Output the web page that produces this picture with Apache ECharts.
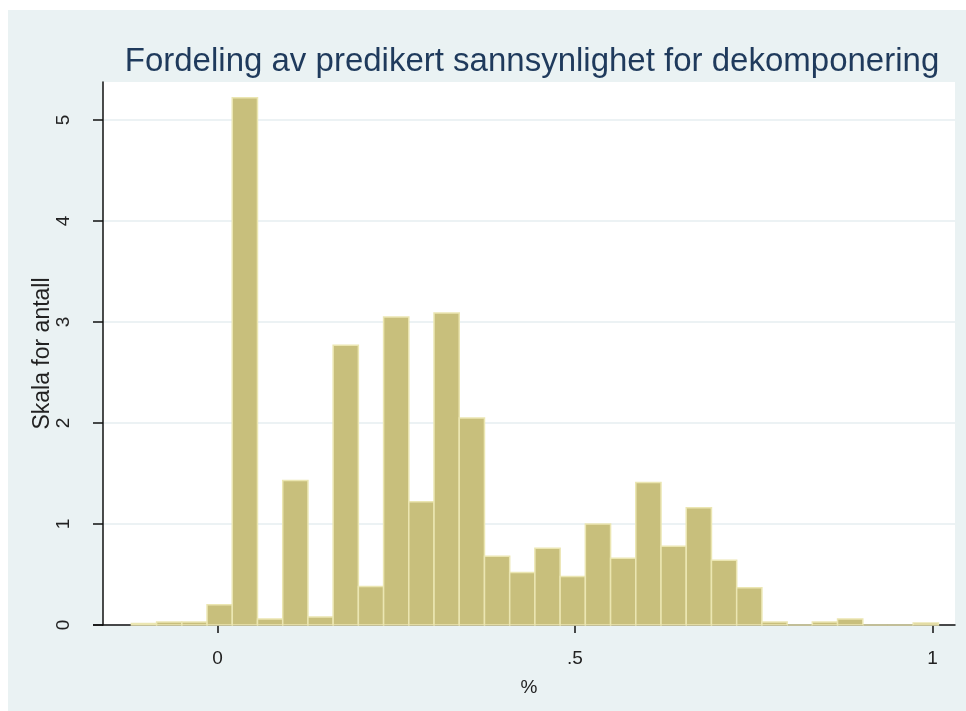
<!DOCTYPE html>
<html>
<head>
<meta charset="utf-8">
<script src="https://cdn.jsdelivr.net/npm/echarts@6/dist/echarts.min.js"></script>
<style>
  html, body { margin: 0; padding: 0; background: #fff; }
  #chart { width: 966px; height: 711px; }
</style>
</head>
<body>
<div id="chart"></div>
<script>
// histogram bins: lower edge of first bin and bin width (data units)
const binStart = -0.1203;
const binWidth = 0.03527;
// density per bin
const densities = [
  0.015, 0.03, 0.03, 0.2, 5.22, 0.06, 1.43, 0.08,
  2.77, 0.38, 3.05, 1.22, 3.09, 2.05, 0.68, 0.52,
  0.76, 0.48, 1.0, 0.66, 1.41, 0.78, 1.16, 0.64,
  0.37, 0.03, 0, 0.03, 0.06, 0, 0, 0.02
];
const xTicks = [0, 0.5, 1];
const xTickLabels = ["0", ".5", "1"];
const yTicks = [0, 1, 2, 3, 4, 5];

const bins = densities.map((d, i) => [
  binStart + i * binWidth,
  binStart + (i + 1) * binWidth,
  d,
]);

const chart = echarts.init(document.getElementById("chart"));

chart.setOption({
  backgroundColor: "#eaf2f3",
  animation: false,
  textStyle: { fontFamily: "Liberation Sans, Arial, sans-serif" },
  title: {
    text: "Fordeling av predikert sannsynlighet for dekomponering",
    left: 527,
    textAlign: "center",
    top: 40,
    textStyle: {
      fontSize: 33,
      fontWeight: "normal",
      color: "#1f3a5c",
    },
  },
  graphic: [
    { type: "rect", shape: { x: 0, y: 0, width: 966, height: 10 }, style: { fill: "#fff" }, silent: true },
    { type: "rect", shape: { x: 0, y: 0, width: 8, height: 711 }, style: { fill: "#fff" }, silent: true },
    // x axis line runs a little past the y axis, as in Stata
    { type: "line", shape: { x1: 93, y1: 625, x2: 103, y2: 625 }, style: { stroke: "#111", lineWidth: 1.5 }, silent: true },
  ],
  grid: {
    left: 103,
    right: 11,
    top: 82,
    bottom: 86,
    show: true,
    backgroundColor: "#fff",
    borderWidth: 0,
  },
  xAxis: {
    type: "value",
    min: -0.16,
    max: 1.0315,
    name: "%",
    nameLocation: "middle",
    nameGap: 53,
    nameTextStyle: { fontSize: 19, color: "#222" },
    axisLine: { show: true, onZero: false, lineStyle: { color: "#111", width: 1.5 } },
    axisTick: {
      show: true,
      customValues: xTicks,
      length: 8,
      lineStyle: { color: "#111", width: 1.5 },
    },
    axisLabel: {
      customValues: xTicks,
      formatter: (v) => xTickLabels[xTicks.indexOf(v)] ?? "",
      fontSize: 19,
      color: "#222",
      margin: 24,
    },
    splitLine: { show: false },
  },
  yAxis: {
    type: "value",
    min: 0,
    max: 5.376,
    name: "Skala for antall",
    nameLocation: "middle",
    nameGap: 49,
    nameMoveOverlap: false,
    nameTextStyle: { fontSize: 23, color: "#222" },
    axisLine: { show: true, onZero: false, lineStyle: { color: "#111", width: 1.5 } },
    axisTick: {
      show: true,
      customValues: yTicks,
      length: 10,
      lineStyle: { color: "#111", width: 1.5 },
    },
    axisLabel: {
      customValues: yTicks,
      rotate: 90,
      fontSize: 19,
      color: "#222",
      margin: 30,
    },
    splitLine: { show: true, lineStyle: { color: "#e6eef0", width: 1.5 } },
  },
  series: [
    {
      type: "custom",
      data: bins,
      encode: { x: [0, 1], y: 2 },
      renderItem: (params, api) => {
        const p0 = api.coord([api.value(0), api.value(2)]);
        const p1 = api.coord([api.value(1), 0]);
        return {
          type: "rect",
          shape: { x: p0[0], y: p0[1], width: p1[0] - p0[0], height: p1[1] - p0[1] },
          style: { fill: "#c8bf7c", stroke: "#ebe6b2", lineWidth: 1.5 },
        };
      },
    },
  ],
});
</script>
</body>
</html>
